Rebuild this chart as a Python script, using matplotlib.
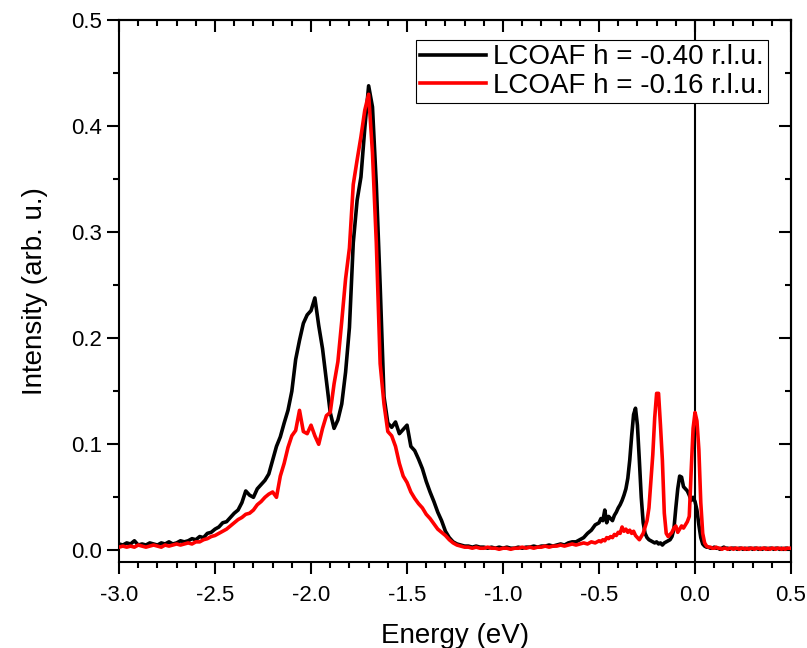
import numpy as np
import matplotlib
matplotlib.use('Agg')
import matplotlib.pyplot as plt
from matplotlib.ticker import MultipleLocator

plt.rcParams['font.family'] = ['Liberation Sans', 'DejaVu Sans']
plt.rcParams['axes.unicode_minus'] = False

# energy grid: coarse over the dd region, finer around the low-energy peaks
energy_coarse = np.round(np.arange(-3.00, -0.51, 0.02), 2)
energy_fine = np.round(np.arange(-0.50, 0.505, 0.01), 2)

# h = -0.40 r.l.u. (black)
black_coarse = [
    0.006, 0.005, 0.007, 0.006, 0.009, 0.005, 0.006, 0.005, 0.007, 0.006,
    0.005, 0.007, 0.006, 0.008, 0.006, 0.007, 0.009, 0.008, 0.009, 0.011,
    0.010, 0.013, 0.012, 0.016, 0.017, 0.020, 0.022, 0.026, 0.027, 0.031,
    0.035, 0.038, 0.045, 0.056, 0.052, 0.050, 0.058, 0.062, 0.066, 0.072,
    0.085, 0.098, 0.107, 0.120, 0.132, 0.150, 0.180, 0.198, 0.214, 0.222,
    0.226, 0.238, 0.212, 0.190, 0.160, 0.130, 0.115, 0.123, 0.138, 0.168,
    0.210, 0.290, 0.330, 0.352, 0.398, 0.438, 0.418, 0.345, 0.250, 0.145,
    0.120, 0.116, 0.121, 0.110, 0.114, 0.118, 0.098, 0.094, 0.086, 0.077,
    0.065, 0.055, 0.046, 0.036, 0.028, 0.018, 0.012, 0.008, 0.006, 0.005,
    0.004, 0.004, 0.003, 0.004, 0.003, 0.003, 0.002, 0.003, 0.002, 0.003,
    0.002, 0.003, 0.002, 0.002, 0.003, 0.002, 0.003, 0.003, 0.004, 0.003,
    0.004, 0.004, 0.005, 0.004, 0.005, 0.006, 0.005, 0.007, 0.008, 0.008,
    0.010, 0.012, 0.016, 0.019, 0.024,
]
black_fine = [
    0.026, 0.030, 0.028, 0.038, 0.026, 0.032, 0.030, 0.028, 0.033, 0.036,
    0.040, 0.043, 0.047, 0.052, 0.058, 0.068, 0.085, 0.108, 0.128, 0.134,
    0.118, 0.085, 0.050, 0.026, 0.016, 0.012, 0.010, 0.009, 0.008, 0.007,
    0.008, 0.006, 0.007, 0.005, 0.007, 0.008, 0.009, 0.010, 0.013, 0.020,
    0.040, 0.058, 0.070, 0.069, 0.060, 0.058, 0.056, 0.052, 0.047, 0.050,
    0.046, 0.038, 0.024, 0.012, 0.006, 0.004, 0.003, 0.003, 0.002, 0.002,
    0.003, 0.002, 0.002, 0.001, 0.002, 0.003, 0.002, 0.002, 0.001, 0.002,
    0.002, 0.002, 0.001, 0.002, 0.002, 0.001, 0.002, 0.001, 0.002, 0.002,
    0.001, 0.002, 0.002, 0.001, 0.002, 0.001, 0.002, 0.002, 0.001, 0.002,
    0.002, 0.001, 0.002, 0.002, 0.001, 0.002, 0.001, 0.002, 0.002, 0.001,
    0.002,
]

# h = -0.16 r.l.u. (red)
red_coarse = [
    0.003, 0.004, 0.003, 0.004, 0.003, 0.005, 0.004, 0.003, 0.004, 0.005,
    0.004, 0.003, 0.005, 0.004, 0.005, 0.006, 0.005, 0.006, 0.007, 0.006,
    0.008, 0.008, 0.010, 0.011, 0.013, 0.014, 0.016, 0.018, 0.020, 0.023,
    0.026, 0.029, 0.031, 0.034, 0.035, 0.038, 0.043, 0.046, 0.050, 0.053,
    0.055, 0.050, 0.070, 0.082, 0.097, 0.108, 0.113, 0.132, 0.112, 0.110,
    0.118, 0.108, 0.100, 0.115, 0.127, 0.130, 0.157, 0.178, 0.216, 0.256,
    0.285, 0.345, 0.368, 0.390, 0.415, 0.430, 0.375, 0.290, 0.176, 0.138,
    0.112, 0.108, 0.098, 0.082, 0.070, 0.064, 0.055, 0.049, 0.044, 0.040,
    0.034, 0.030, 0.025, 0.020, 0.017, 0.014, 0.010, 0.007, 0.005, 0.004,
    0.003, 0.003, 0.002, 0.003, 0.002, 0.002, 0.003, 0.002, 0.002, 0.001,
    0.002, 0.002, 0.001, 0.002, 0.002, 0.003, 0.002, 0.003, 0.002, 0.003,
    0.003, 0.004, 0.003, 0.004, 0.004, 0.005, 0.004, 0.005, 0.006, 0.005,
    0.006, 0.007, 0.006, 0.008, 0.007,
]
red_fine = [
    0.009, 0.008, 0.010, 0.009, 0.012, 0.011, 0.013, 0.012, 0.015, 0.014,
    0.017, 0.016, 0.022, 0.018, 0.020, 0.017, 0.019, 0.016, 0.018, 0.014,
    0.012, 0.010, 0.013, 0.016, 0.022, 0.028, 0.040, 0.065, 0.090, 0.125,
    0.148, 0.148, 0.118, 0.085, 0.035, 0.016, 0.013, 0.015, 0.017, 0.021,
    0.023, 0.017, 0.020, 0.023, 0.021, 0.024, 0.027, 0.032, 0.075, 0.115,
    0.130, 0.122, 0.095, 0.045, 0.016, 0.007, 0.004, 0.003, 0.003, 0.002,
    0.002, 0.003, 0.002, 0.002, 0.001, 0.002, 0.002, 0.001, 0.002, 0.002,
    0.001, 0.002, 0.002, 0.001, 0.002, 0.002, 0.001, 0.002, 0.001, 0.002,
    0.002, 0.001, 0.002, 0.002, 0.001, 0.002, 0.002, 0.001, 0.002, 0.001,
    0.002, 0.002, 0.001, 0.002, 0.002, 0.001, 0.002, 0.001, 0.002, 0.002,
    0.002,
]

labels = ['LCOAF h = -0.40 r.l.u.', 'LCOAF h = -0.16 r.l.u.']

energy = np.concatenate([energy_coarse, energy_fine])
black = np.concatenate([black_coarse, black_fine])
red = np.concatenate([red_coarse, red_fine])

fig = plt.figure(figsize=(8.07, 6.48), dpi=100)
ax = fig.add_axes([0.1475, 0.1327, 0.8327, 0.8364])

ax.axvline(0, color='black', lw=1.5, zorder=1)
ax.plot(energy, black, color='black', lw=2.6, label=labels[0], zorder=2)
ax.plot(energy, red, color='#ff0000', lw=2.6, label=labels[1], zorder=3)

ax.set_xlim(-3.0, 0.5)
ax.set_ylim(-0.011, 0.5)
ax.xaxis.set_major_locator(MultipleLocator(0.5))
ax.xaxis.set_minor_locator(MultipleLocator(0.1))
ax.yaxis.set_major_locator(MultipleLocator(0.1))
ax.yaxis.set_minor_locator(MultipleLocator(0.05))
ax.xaxis.set_major_formatter(plt.FormatStrFormatter('%.1f'))
ax.yaxis.set_major_formatter(plt.FormatStrFormatter('%.1f'))

for s in ax.spines.values():
    s.set_linewidth(1.5)
ax.tick_params(which='major', direction='out', length=8.5, width=1.5,
               labelsize=16, pad=4)
ax.tick_params(axis='x', which='major', pad=8)
ax.tick_params(which='minor', direction='out', length=4.5, width=1.5)

# mirrored ticks on top and right, pointing inward
top = ax.secondary_xaxis('top')
top.xaxis.set_major_locator(MultipleLocator(0.5))
top.xaxis.set_minor_locator(MultipleLocator(0.1))
top.tick_params(which='major', direction='in', length=8.5, width=1.5, labeltop=False)
top.tick_params(which='minor', direction='in', length=4.5, width=1.5)
top.spines['top'].set_linewidth(1.5)

right = ax.secondary_yaxis('right')
right.yaxis.set_major_locator(MultipleLocator(0.1))
right.yaxis.set_minor_locator(MultipleLocator(0.05))
right.tick_params(which='major', direction='in', length=8.5, width=1.5, labelright=False)
right.tick_params(which='minor', direction='in', length=4.5, width=1.5)
right.spines['right'].set_linewidth(1.5)

ax.set_xlabel('Energy (eV)', fontsize=20, labelpad=12)
ax.set_ylabel('Intensity (arb. u.)', fontsize=20, labelpad=16)

leg = ax.legend(loc='upper right', bbox_to_anchor=(0.966, 0.963),
                borderaxespad=0, fontsize=20, frameon=True, fancybox=False,
                edgecolor='black', framealpha=1, handlelength=2.4,
                handletextpad=0.25, borderpad=0.15, labelspacing=0.1)
leg.get_frame().set_linewidth(0.8)

fig.savefig('out.png', dpi=100)
plt.close(fig)
